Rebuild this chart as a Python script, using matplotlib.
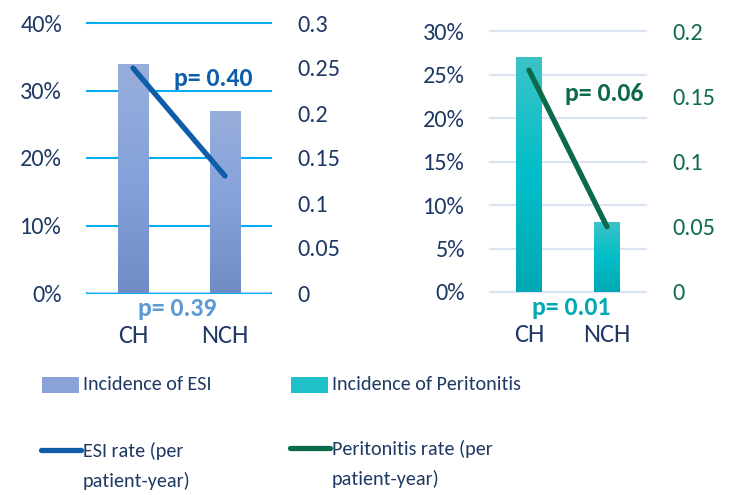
import numpy as np
import matplotlib
matplotlib.use("Agg")
import matplotlib.pyplot as plt
from matplotlib.colors import LinearSegmentedColormap
from matplotlib.ticker import PercentFormatter
from matplotlib.patches import Rectangle
from matplotlib.lines import Line2D

plt.rcParams['font.family'] = ['Carlito', 'Lato', 'DejaVu Sans']

groups = ["CH", "NCH"]
esi_incidence = [34, 27]          # %
esi_rate = [0.25, 0.13]           # per patient-year
perit_incidence = [27, 8]         # %
perit_rate = [0.17, 0.05]         # per patient-year

navy = "#1F3864"
W, H = 731, 495
fig = plt.figure(figsize=(W / 100, H / 100), dpi=100)


def px_axes(x0, y0, x1, y1):
    return fig.add_axes([x0 / W, 1 - y1 / H, (x1 - x0) / W, (y1 - y0) / H])


def grad_bars(ax, vals, c_top, c_mid, c_bot):
    x = np.arange(len(vals))
    bars = ax.bar(x, vals, width=0.33, color="none", zorder=2)
    cmap = LinearSegmentedColormap.from_list("g", [c_bot, c_mid, c_top])
    grad = np.linspace(0, 1, 256).reshape(-1, 1)
    xl, yl = ax.get_xlim(), ax.get_ylim()
    for b in bars:
        im = ax.imshow(grad, cmap=cmap, origin="lower", aspect="auto",
                       extent=[b.get_x(), b.get_x() + b.get_width(), 0, b.get_height()],
                       zorder=2)
        im.set_clip_path(b)
    ax.set_xlim(xl)
    ax.set_ylim(yl)
    return bars


def style(ax, ax2, grid_c, base_c, right_c):
    for a in (ax, ax2):
        for s in a.spines.values():
            s.set_visible(False)
    ax.set_axisbelow(True)
    ax.yaxis.grid(True, color=grid_c, lw=1.5, clip_on=False)
    ax.axhline(0, color=base_c, lw=2, zorder=1)
    ax.tick_params(axis="y", length=0, pad=18, labelsize=17.5, labelcolor=navy)
    ax.tick_params(axis="x", length=0, pad=22, labelsize=19, labelcolor=navy)
    ax2.tick_params(axis="y", length=0, pad=19, labelsize=17.5, labelcolor=right_c)
    ax.yaxis.set_major_formatter(PercentFormatter(decimals=0))
    ax.set_xticks(range(len(groups)))
    ax.set_xticklabels(groups)


# ---- left chart: ESI
ax = px_axes(87, 23, 271, 293)
ax.set_xlim(-0.5, 1.5)
ax.set_ylim(0, 40)
ax.set_yticks(range(0, 41, 10))
ax2 = ax.twinx()
ax2.set_ylim(0, 0.3)
ax2.set_yticks([0, 0.05, 0.1, 0.15, 0.2, 0.25, 0.3])
ax2.set_yticklabels(["0", "0.05", "0.1", "0.15", "0.2", "0.25", "0.3"])
grad_bars(ax, esi_incidence, "#98AEDC", "#86A2DA", "#6F8CC4")
ax2.plot(range(len(groups)), esi_rate, color="#0E5DAA", lw=3.8,
         solid_capstyle="round")
style(ax, ax2, "#00B0F0", "#BDD7EE", navy)
ax.text(0.685, 0.796, "p= 0.40", transform=ax.transAxes, ha="center", va="center",
        fontsize=18.5, fontweight="bold", color="#0E5DAA")
ax.text(0.489, -0.059, "p= 0.39", transform=ax.transAxes, ha="center", va="center",
        fontsize=18.5, fontweight="bold", color="#5B9BD5")

# ---- right chart: peritonitis
bx = px_axes(490, 31, 646, 292)
bx.set_xlim(-0.5, 1.5)
bx.set_ylim(0, 30)
bx.set_yticks(range(0, 31, 5))
bx2 = bx.twinx()
bx2.set_ylim(0, 0.2)
bx2.set_yticks([0, 0.05, 0.1, 0.15, 0.2])
bx2.set_yticklabels(["0", "0.05", "0.1", "0.15", "0.2"])
grad_bars(bx, perit_incidence, "#3CC3C8", "#00BEC8", "#00A9B4")
bx2.plot(range(len(groups)), perit_rate, color="#0B6A4B", lw=3.8,
         solid_capstyle="round")
style(bx, bx2, "#DAE3F3", "#DAE3F3", "#0E6B4C")
bx.text(0.731, 0.762, "p= 0.06", transform=bx.transAxes, ha="center", va="center",
        fontsize=18.5, fontweight="bold", color="#0B6A4B")
bx.text(0.519, -0.061, "p= 0.01", transform=bx.transAxes, ha="center", va="center",
        fontsize=18.5, fontweight="bold", color="#00A9B4")

# ---- legends (drawn by hand so the line key sits on the first text line)
legend_rows = [
    (42, "#89A3D8", "#0E5DAA", "Incidence of ESI", ["ESI rate (per", "patient-year)"], 450),
    (291, "#1FC0C8", "#0B6A4B", "Incidence of Peritonitis",
     ["Peritonitis rate (per", "patient-year)"], 448),
]
for x0, pc, lc, lab1, lab2, ly in legend_rows:
    fig.add_artist(Rectangle((x0 / W, 1 - 393 / H), 37 / W, 16 / H,
                             transform=fig.transFigure, facecolor=pc, edgecolor="none"))
    fig.text((x0 + 41) / W, 1 - 385 / H, lab1, ha="left", va="center",
             fontsize=14.5, color=navy)
    fig.add_artist(Line2D([(x0 - 1) / W, (x0 + 39) / W], [1 - ly / H, 1 - ly / H],
                          transform=fig.transFigure, color=lc, lw=3.8,
                          solid_capstyle="round"))
    for i, t in enumerate(lab2):
        fig.text((x0 + 41) / W, 1 - (ly + 1 + 30 * i) / H, t, ha="left", va="center",
                 fontsize=14.5, color=navy)

fig.savefig("out.png", dpi=100)
